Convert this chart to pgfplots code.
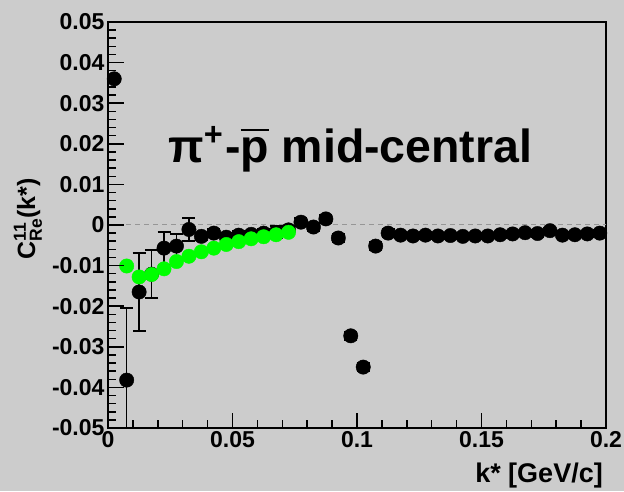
\documentclass[border=0pt]{standalone}
\usepackage{fontspec}
\setmainfont{Liberation Sans}
\usepackage{amsmath}
\usepackage{graphicx}
\usepackage{pgfplots}
\pgfplotsset{compat=1.18}
\usepackage{pgfplotstable}
\definecolor{bg}{RGB}{204,204,204}
\definecolor{grn}{RGB}{0,255,0}
\definecolor{zl}{RGB}{150,150,150}

\pgfplotstableread{
x y e
0.0025 0.0360 0
0.0075 -0.0382 0.0177
0.0125 -0.0165 0.0096
0.0175 -0.0121 0.0059
0.0225 -0.0057 0.0040
0.0275 -0.0052 0.0030
0.0325 -0.0011 0.0028
0.0375 -0.0028 0.0010
0.0425 -0.0020 0.0010
0.0475 -0.0030 0.0010
0.0525 -0.0025 0.0010
0.0575 -0.0023 0.0010
0.0625 -0.0020 0.0010
0.0675 -0.0018 0.0015
0.0725 -0.0012 0.0010
0.0775 0.0007 0.0010
0.0825 -0.0005 0.0010
0.0875 0.0015 0.0010
0.0925 -0.0032 0.0010
0.0975 -0.0273 0.0010
0.1025 -0.0350 0.0010
0.1075 -0.0052 0.0010
0.1125 -0.0020 0.0010
0.1175 -0.0025 0.0008
0.1225 -0.0027 0.0008
0.1275 -0.0025 0.0008
0.1325 -0.0027 0.0008
0.1375 -0.0026 0.0008
0.1425 -0.0028 0.0008
0.1475 -0.0027 0.0008
0.1525 -0.0027 0.0008
0.1575 -0.0024 0.0008
0.1625 -0.0022 0.0008
0.1675 -0.0019 0.0008
0.1725 -0.0021 0.0008
0.1775 -0.0014 0.0008
0.1825 -0.0025 0.0008
0.1875 -0.0024 0.0008
0.1925 -0.0022 0.0008
0.1975 -0.0020 0.0008
}\blackdata

\pgfplotstableread{
x y
0.0075 -0.0101
0.0125 -0.0128
0.0175 -0.0122
0.0225 -0.0108
0.0275 -0.0090
0.0325 -0.0077
0.0375 -0.0066
0.0425 -0.0057
0.0475 -0.0048
0.0525 -0.0041
0.0575 -0.0034
0.0625 -0.0029
0.0675 -0.0024
0.0725 -0.0018
}\greendata

\begin{document}
\begin{tikzpicture}
\fill[bg] (0,0) rectangle (624pt,491pt);
\path[use as bounding box] (0,0) rectangle (624pt,491pt);
\begin{axis}[
  at={(108pt,63pt)}, anchor=south west,
  scale only axis, width=498pt, height=406pt,
  xmin=0, xmax=0.2, ymin=-0.05, ymax=0.05,
  scaled x ticks=false, scaled y ticks=false,
  xtick={0,0.05,0.1,0.15,0.2},
  ytick={-0.05,-0.04,-0.03,-0.02,-0.01,0,0.01,0.02,0.03,0.04,0.05},
  tick align=inside,
  xtick pos=left, ytick pos=left,
  major tick length=0pt,
  axis line style={black, line width=1.6pt},
  ticklabel style={font=\fontsize{23}{23}\selectfont\bfseries},
  xticklabel={\pgfmathprintnumber[fixed,precision=2,assume math mode=true]{\tick}},
  yticklabel={\pgfmathprintnumber[fixed,precision=2,assume math mode=true]{\tick}},
]
\addplot[zl, line width=1pt, dash pattern=on 5pt off 4pt] coordinates {(0,0) (0.2,0)};
\addplot[only marks, mark=*, black, mark size=7.2pt,
  error bars/.cd, y dir=both, y explicit,
  error bar style={line width=1.5pt, black},
  error mark options={rotate=90, mark size=6.5pt, line width=1.5pt, black}]
  table[x=x, y=y, y error=e] {\blackdata};
\addplot[only marks, mark=*, grn, mark options={fill=grn, draw=grn}, mark size=7.2pt]
  table[x=x, y=y] {\greendata};
\end{axis}
% tick marks drawn on top, axis box: x 108..606, y 63..469
\foreach \i in {1,...,19} {
  \draw[black, line width=1.5pt] ({108pt+\i*24.9pt},63pt) -- ++(0pt,8pt);
}
\foreach \i in {1,...,4} {
  \draw[black, line width=1.5pt] ({108pt+\i*124.5pt},63pt) -- ++(0pt,15pt);
}
\foreach \i in {1,...,49} {
  \draw[black, line width=1.5pt] (108pt,{63pt+\i*8.12pt}) -- ++(8pt,0pt);
}
\foreach \i in {1,...,9} {
  \draw[black, line width=1.5pt] (108pt,{63pt+\i*40.6pt}) -- ++(16pt,0pt);
}
\node[anchor=base west, inner sep=0pt] at (168pt,329pt)
  {\resizebox{364pt}{!}{\bfseries π\textsuperscript{+}-\(\overline{\mbox{p}}\) mid-central}};
\node[anchor=base east, inner sep=0pt, font=\fontsize{27}{27}\selectfont\bfseries] at (603pt,9pt) {k* [GeV/c]};
\node[anchor=base east, inner sep=0pt, rotate=90, font=\fontsize{25}{25}\selectfont\bfseries] at (35pt,313pt) {C$^{\text{11}}_{\text{Re}}$(k*)};
\end{tikzpicture}
\end{document}
